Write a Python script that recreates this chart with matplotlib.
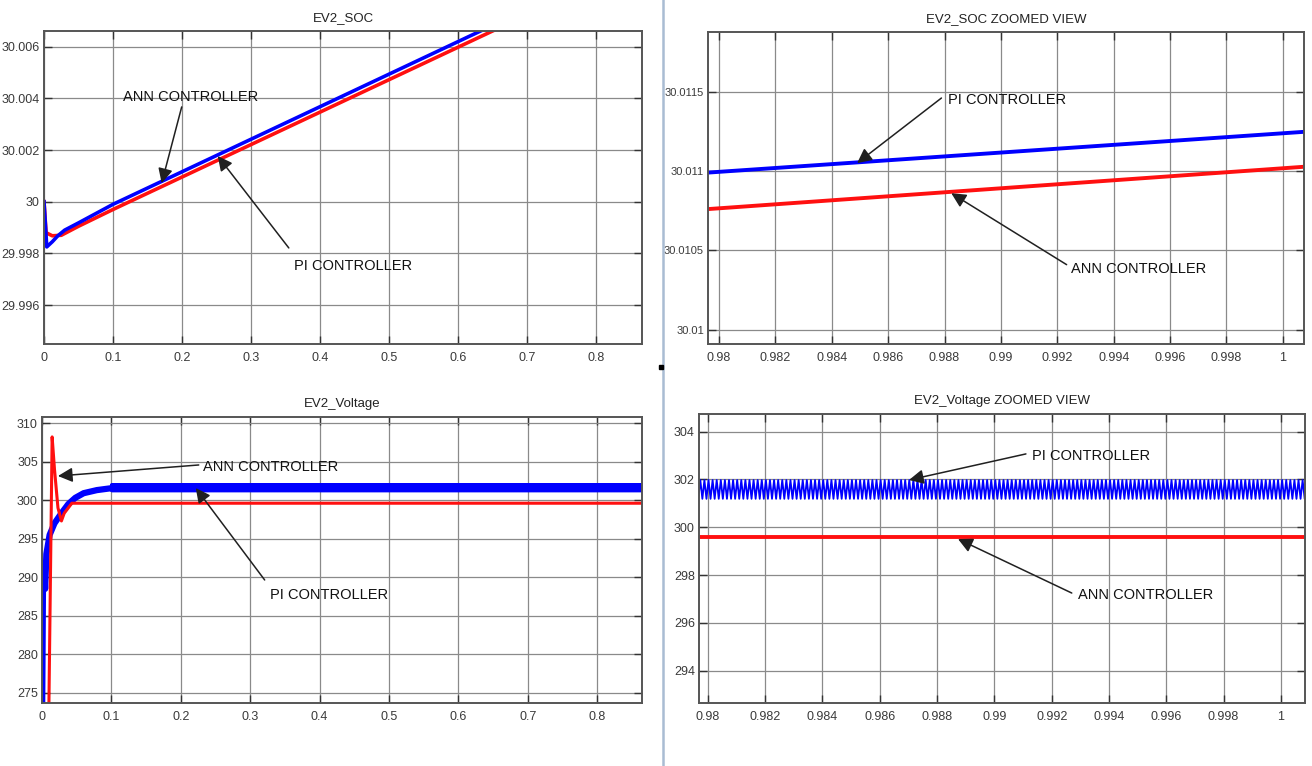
import numpy as np
import matplotlib
matplotlib.use("Agg")
import matplotlib.pyplot as plt

# ---------------- data ----------------
# EV2 SOC – PI controller (blue)
soc_pi_t = [0.0, 0.004, 0.012, 0.02, 0.03, 0.05, 0.1, 0.9796, 1.001]
soc_pi_v = [30.0, 29.99825, 29.99845, 29.99868, 29.9989, 29.99918, 29.9999, 30.01099, 30.01125]
# EV2 SOC – ANN controller (red)
soc_ann_t = [0.0, 0.003, 0.012, 0.025, 0.035, 0.05, 0.1, 0.9796, 1.001]
soc_ann_v = [30.0, 29.9988, 29.99868, 29.9987, 29.99884, 29.99905, 29.9997, 30.01076, 30.01103]

# EV2 voltage – PI controller (blue) transient
v_pi_t = [0.0, 0.0015, 0.0025, 0.0035, 0.0045, 0.0063, 0.011, 0.018, 0.028,
          0.038, 0.048, 0.06, 0.079, 0.1]
v_pi_v = [270.0, 290.5, 288.5, 290.5, 288.5, 293.0, 295.5, 297.0, 298.3,
          299.5, 300.3, 300.9, 301.3, 301.55]
# PI steady-state ripple (peak, trough and period read from the zoomed view)
ripple_peak = 301.98
ripple_trough = 301.19
ripple_period = 0.000143
ripple_start = 0.1
ripple_end = 1.001

# EV2 voltage – ANN controller (red)
v_ann_t = [0.0, 0.0095, 0.0146, 0.018, 0.023, 0.028, 0.032, 0.043, 1.001]
v_ann_v = [270.0, 270.0, 308.2, 304.0, 299.0, 297.3, 298.3, 299.6, 299.6]

# tick values / labels
main_xticks = [0.0, 0.1, 0.2, 0.3, 0.4, 0.5, 0.6, 0.7, 0.8]
main_xlabels = ["0", "0.1", "0.2", "0.3", "0.4", "0.5", "0.6", "0.7", "0.8"]
zoom_xticks = [0.98, 0.982, 0.984, 0.986, 0.988, 0.99, 0.992, 0.994, 0.996, 0.998, 1.0]
zoom_xlabels = ["0.98", "0.982", "0.984", "0.986", "0.988", "0.99", "0.992",
                "0.994", "0.996", "0.998", "1"]
soc_yticks = [29.996, 29.998, 30.0, 30.002, 30.004, 30.006]
soc_ylabels = ["29.996", "29.998", "30", "30.002", "30.004", "30.006"]
soczoom_yticks = [30.01, 30.0105, 30.011, 30.0115]
soczoom_ylabels = ["30.01", "30.0105", "30.011", "30.0115"]
volt_yticks = [275, 280, 285, 290, 295, 300, 305, 310]
volt_ylabels = ["275", "280", "285", "290", "295", "300", "305", "310"]
voltzoom_yticks = [294, 296, 298, 300, 302, 304]
voltzoom_ylabels = ["294", "296", "298", "300", "302", "304"]

titles = ["EV2_SOC", "EV2_SOC ZOOMED VIEW", "EV2_Voltage", "EV2_Voltage ZOOMED VIEW"]
label_pi = "PI CONTROLLER"
label_ann = "ANN CONTROLLER"

# ---------------- style ----------------
plt.rcParams["font.family"] = ["Liberation Sans", "DejaVu Sans"]

BLUE = "#0000ff"
RED = "#ff1010"
TICKC = "#3a3a3a"

fig = plt.figure(figsize=(13.12, 7.66), dpi=100)
fig.patch.set_facecolor("white")

ax_tl = fig.add_axes([0.03354, 0.55091, 0.45579, 0.40862])
ax_tr = fig.add_axes([0.53963, 0.55091, 0.45427, 0.40731])
ax_bl = fig.add_axes([0.03201, 0.08225, 0.45732, 0.37337])
ax_br = fig.add_axes([0.53277, 0.08225, 0.46189, 0.37728])


def style(ax, xt, xl, yt, yl, title, ysize=9):
    ax.set_xticks(xt)
    ax.set_xticklabels(xl)
    ax.set_yticks(yt)
    ax.set_yticklabels(yl)
    ax.tick_params(direction="in", length=6, width=1.0, color="#333333",
                   top=True, right=True, labelsize=9, labelcolor=TICKC, pad=4)
    ax.tick_params(axis="x", pad=6)
    ax.tick_params(axis="y", labelsize=ysize, pad=3)
    ax.grid(True, color="#8a8a8a", linewidth=0.9)
    ax.set_axisbelow(True)
    for s in ax.spines.values():
        s.set_color("#555555")
        s.set_linewidth(1.4)
    ax.set_title(title, fontsize=9.5, color="#222222", pad=7)


def arrow(ax, tip, tail, text_xy, text):
    ax.annotate("", xy=tip, xytext=tail,
                arrowprops=dict(arrowstyle="-|>", color="#202020", lw=1.1,
                                mutation_scale=22, shrinkA=0, shrinkB=0))
    ax.text(text_xy[0], text_xy[1], text, fontsize=10.5, color="#111111",
            ha="left", va="center")


# ---- top-left: EV2_SOC ----
ax = ax_tl
ax.plot(soc_ann_t, soc_ann_v, color=RED, lw=2.6, solid_joinstyle="round")
ax.plot(soc_pi_t, soc_pi_v, color=BLUE, lw=2.6, solid_joinstyle="round")
ax.set_xlim(0, 0.866)
ax.set_ylim(29.99449, 30.00661)
style(ax, main_xticks, main_xlabels, soc_yticks, soc_ylabels, titles[0])
arrow(ax, (0.1704, 30.00072), (0.1994, 30.00367), (0.1138, 30.00405), label_ann)
arrow(ax, (0.2516, 30.00177), (0.3545, 29.99821), (0.3618, 29.99751), label_pi)

# ---- top-right: EV2_SOC zoomed ----
ax = ax_tr
ax.plot(soc_ann_t, soc_ann_v, color=RED, lw=2.8)
ax.plot(soc_pi_t, soc_pi_v, color=BLUE, lw=2.8)
ax.set_xlim(0.97961, 1.00075)
ax.set_ylim(30.00991, 30.011876)
style(ax, zoom_xticks, zoom_xlabels, soczoom_yticks, soczoom_ylabels, titles[1], ysize=8)
arrow(ax, (0.98490, 30.01105), (0.98789, 30.01146), (0.98814, 30.01145), label_pi)
arrow(ax, (0.98824, 30.01086), (0.99233, 30.01041), (0.99247, 30.01038), label_ann)

# ripple series from the read peak / trough / period
n_half = int(round((ripple_end - ripple_start) / (ripple_period / 2)))
rip_t = ripple_start + np.arange(n_half + 1) * (ripple_period / 2)
rip_v = np.where(np.arange(n_half + 1) % 2 == 0, ripple_peak, ripple_trough)

# ---- bottom-left: EV2_Voltage ----
ax = ax_bl
ax.plot(v_pi_t, v_pi_v, color=BLUE, lw=4.5, solid_joinstyle="round")
ax.plot(rip_t, rip_v, color=BLUE, lw=1.8)
ax.plot(v_ann_t, v_ann_v, color=RED, lw=2.2, solid_joinstyle="round")
ax.set_xlim(0, 0.8647)
ax.set_ylim(273.70, 310.78)
style(ax, main_xticks, main_xlabels, volt_yticks, volt_ylabels, titles[2])
arrow(ax, (0.023, 303.13), (0.2259, 304.56), (0.2317, 304.3), label_ann)
arrow(ax, (0.2216, 301.57), (0.3209, 289.65), (0.328, 287.7), label_pi)

# ---- bottom-right: EV2_Voltage zoomed ----
ax = ax_br
ax.plot(rip_t, rip_v, color=BLUE, lw=1.3)
ax.plot(v_ann_t, v_ann_v, color=RED, lw=2.8)
ax.set_xlim(0.97969, 1.00084)
ax.set_ylim(292.65, 304.74)
style(ax, zoom_xticks, zoom_xlabels, voltzoom_yticks, voltzoom_ylabels, titles[3])
arrow(ax, (0.98702, 301.98), (0.9911, 303.07), (0.99131, 302.98), label_pi)
arrow(ax, (0.98873, 299.51), (0.9927, 297.25), (0.99291, 297.17), label_ann)

# divider between left and right halves
fig.add_artist(plt.Line2D([662.5 / 1312, 662.5 / 1312], [0, 1],
                          transform=fig.transFigure, color="#a9bcd3", lw=1.8))
fig.add_artist(plt.Line2D([660.5 / 1312], [1 - 367 / 766], transform=fig.transFigure,
                          marker="s", markersize=2.5, color="black", lw=0))

fig.savefig("out.png", dpi=100, facecolor="white")
